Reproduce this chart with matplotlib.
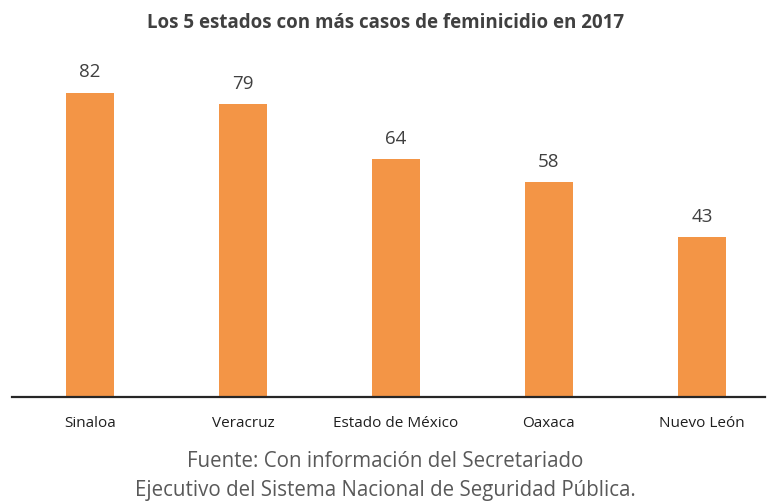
import matplotlib
matplotlib.use("Agg")
import matplotlib.pyplot as plt

# --- DATOS ---
estados = ["Sinaloa", "Veracruz", "Estado de México", "Oaxaca", "Nuevo León"]
casos = [82, 79, 64, 58, 43]

titulo = "Los 5 estados con más casos de feminicidio en 2017"
fuente = ("Fuente: Con información del Secretariado\n"
          "Ejecutivo del Sistema Nacional de Seguridad Pública.")

plt.rcParams['font.family'] = ['Open Sans', 'DejaVu Sans']

fig = plt.figure(figsize=(7.71, 5.01), dpi=100)
ax = fig.add_axes([0.0156, 0.2076, 0.976, 0.667])

x = range(len(estados))
bars = ax.bar(x, casos, width=0.31, color="#F39546")

# etiquetas de valor
for b, v in zip(bars, casos):
    ax.text(b.get_x() + b.get_width() / 2, v + 3.0, str(v),
            ha='center', va='bottom', fontsize=13.5, color="#404040")

ax.set_xlim(-0.51, 4.41)
ax.set_ylim(0, 90)
ax.set_xticks(list(x))
ax.set_xticklabels(estados, fontsize=11, color="#1f1f1f")
ax.tick_params(axis='x', length=0, pad=14)
ax.set_yticks([])

for s in ['top', 'right', 'left']:
    ax.spines[s].set_visible(False)
ax.spines['bottom'].set_color("#262626")
ax.spines['bottom'].set_linewidth(1.6)

fig.text(0.5, 0.955, titulo, ha='center', va='center', fontsize=13.5,
         fontweight='bold', color="#404040")
fig.text(0.5, 0.05, fuente, ha='center', va='center', fontsize=14.8,
         color="#595959", linespacing=1.55)

fig.savefig("out.png", dpi=100)
